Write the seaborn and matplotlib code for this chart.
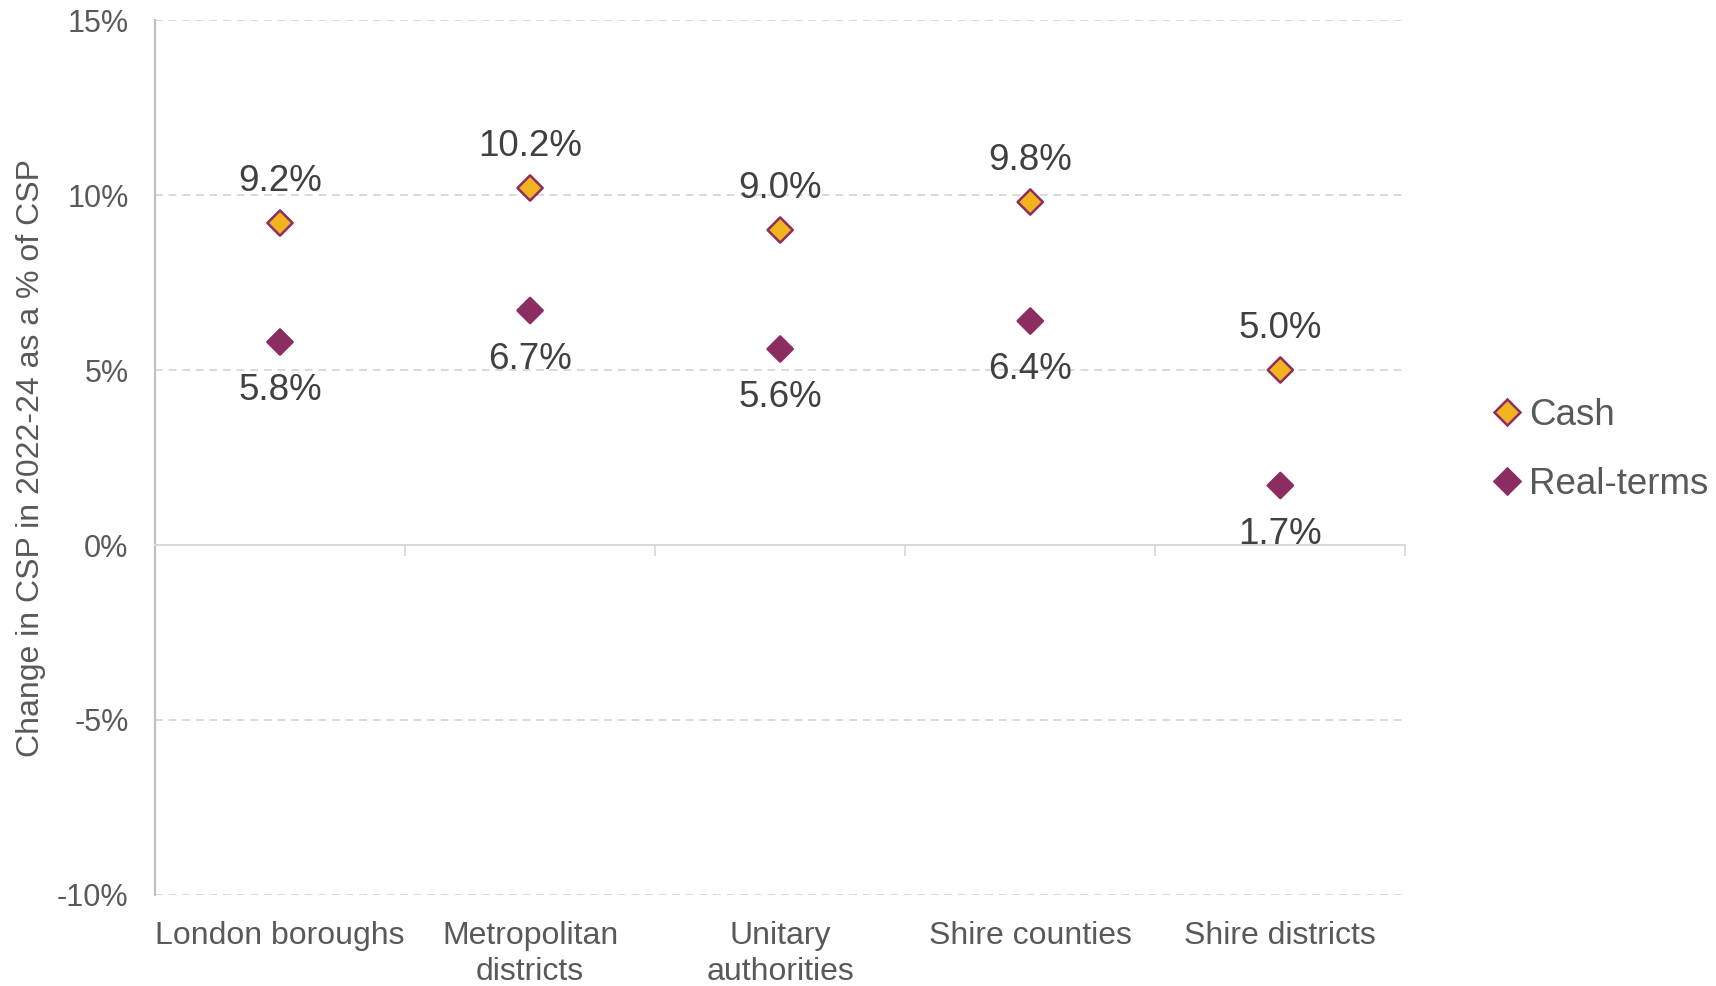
import matplotlib
matplotlib.use("Agg")
import matplotlib.pyplot as plt
import seaborn as sns
import pandas as pd

categories = ["London boroughs", "Metropolitan\ndistricts", "Unitary\nauthorities",
              "Shire counties", "Shire districts"]
cash = [9.2, 10.2, 9.0, 9.8, 5.0]
real_terms = [5.8, 6.7, 5.6, 6.4, 1.7]
series_names = ["Cash", "Real-terms"]
y_ticks = [-10, -5, 0, 5, 10, 15]

sns.set_theme(style="white")
plt.rcParams["font.family"] = ["Liberation Sans", "DejaVu Sans"]

grey = "#595959"
purple = "#8C2D62"
gold = "#F2B41E"

df = pd.DataFrame({
    "x": list(range(len(categories))) * 2,
    "value": cash + real_terms,
    "series": [series_names[0]] * len(cash) + [series_names[1]] * len(real_terms),
})

fig = plt.figure(figsize=(17.16, 9.86), dpi=100)
ax = fig.add_axes([0.0903, 0.0923, 0.7287, 0.8874])

sns.scatterplot(data=df, x="x", y="value", hue="series", palette=[gold, purple],
                marker="D", s=165, edgecolor=purple, linewidth=1.8, ax=ax,
                legend=True, zorder=3)

ax.set_xlim(-0.5, len(categories) - 0.5)
ax.set_ylim(-10, 15)

for yv in y_ticks:
    if yv != 0:
        ax.axhline(yv, color="#D9D9D9", linestyle=(0, (4, 3)), linewidth=1.4, zorder=1)

for s in ["top", "right"]:
    ax.spines[s].set_visible(False)
ax.spines["left"].set_color("#BFBFBF")
ax.spines["left"].set_linewidth(1.5)
ax.spines["bottom"].set_position(("data", 0))
ax.spines["bottom"].set_color("#D9D9D9")
ax.spines["bottom"].set_linewidth(1.5)

ax.set_xticks([i + 0.5 for i in range(len(categories))])
ax.set_xticklabels([])
ax.tick_params(axis="x", bottom=True, length=8, width=1.3, color="#D9D9D9", direction="out")

ax.set_yticks(y_ticks)
ax.set_yticklabels([f"{v}%" for v in y_ticks])
ax.tick_params(axis="y", left=False, labelsize=22, labelcolor=grey, pad=13)

sec = ax.secondary_xaxis(0.0)
sec.set_xticks(range(len(categories)))
sec.set_xticklabels(categories)
sec.tick_params(length=0, labelsize=23, labelcolor=grey, pad=19)
sec.spines["bottom"].set_visible(False)
for lab in sec.get_xticklabels():
    lab.set_linespacing(1.24)

ax.set_xlabel("")
ax.set_ylabel("Change in CSP in 2022-24 as a % of CSP", fontsize=23, color=grey)
ax.yaxis.set_label_coords(-0.087, 0.5)

for i, v in enumerate(cash):
    ax.annotate(f"{v:.1f}%", (i, v), xytext=(0, 30), textcoords="offset points",
                ha="center", va="center", fontsize=26.5, color="#404040")
for i, v in enumerate(real_terms):
    ax.annotate(f"{v:.1f}%", (i, v), xytext=(0, -35), textcoords="offset points",
                ha="center", va="center", fontsize=26.5, color="#404040")

leg = ax.legend(loc="center left", bbox_to_anchor=(1.055, 0.509), frameon=False,
                fontsize=26.5, handletextpad=0.1, labelspacing=0.92, markerscale=1.0,
                handlelength=1.0, borderaxespad=0)
for t in leg.get_texts():
    t.set_color(grey)

fig.savefig("out.png", dpi=100)
